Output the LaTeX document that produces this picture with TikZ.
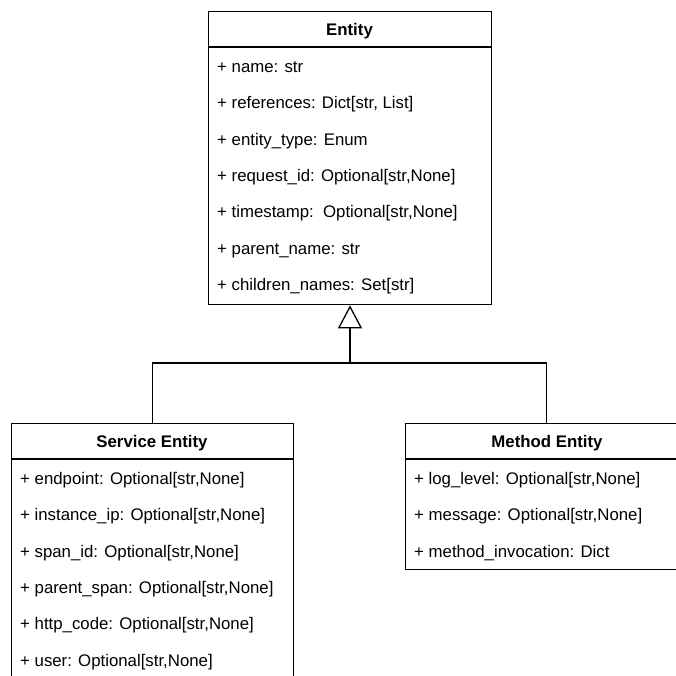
\documentclass[tikz,border=0pt]{standalone}
\usepackage{fontspec}
\setmainfont{Liberation Sans}
\usetikzlibrary{arrows.meta}
\tikzset{
  umlbox/.style={draw, line width=1.3pt, fill=white, rectangle, inner sep=0pt, anchor=north west},
  umltitle/.style={font=\fontsize{16.8}{20}\selectfont\bfseries, anchor=base, inner sep=0pt},
  umlfield/.style={font=\fontsize{16.8}{20}\selectfont, anchor=base west, inner sep=0pt},
  umlrule/.style={line width=1.3pt},
  inherit/.style={line width=1.3pt, -{Triangle[open, length=23pt, width=24pt, line width=1.3pt]}},
}
\begin{document}
\begin{tikzpicture}[x=1pt, y=-1pt]
\useasboundingbox (0,0) rectangle (676,675);
\fill[white] (0,0) rectangle (676,675);
\clip (0,0) rectangle (676,675);

% Entity class
\node[umlbox, minimum width=283, minimum height=293] (entity) at (208,11) {};
\draw[umlrule] (208,47) -- (491,47);
\node[umltitle] (entityT) at (349.5,35) {Entity};
\foreach \t [count=\i from 0] in {%
  {+ name: str},
  {+ references: Dict[str, List]},
  {+ entity\_type: Enum},
  {+ request\_id: Optional[str,None]},
  {+ timestamp:\ \ Optional[str,None]},
  {+ parent\_name: str},
  {+ children\_names: Set[str]}}
  \node[umlfield] (ef\i) at (217, 47+36.4*\i+25.2) {\t};

% Service Entity class (runs past the lower edge)
\node[umlbox, minimum width=282, minimum height=300] (service) at (11,423) {};
\draw[umlrule] (11,459) -- (293,459);
\node[umltitle] (serviceT) at (152,447) {Service Entity};
\foreach \t [count=\i from 0] in {%
  {+ endpoint: Optional[str,None]},
  {+ instance\_ip: Optional[str,None]},
  {+ span\_id: Optional[str,None]},
  {+ parent\_span: Optional[str,None]},
  {+ http\_code: Optional[str,None]},
  {+ user: Optional[str,None]}}
  \node[umlfield] (sf\i) at (20, 459+36.4*\i+25.2) {\t};

% Method Entity class (runs past the right edge)
\node[umlbox, minimum width=282, minimum height=146] (method) at (405,423) {};
\draw[umlrule] (405,459) -- (687,459);
\node[umltitle] (methodT) at (547,447) {Method Entity};
\foreach \t [count=\i from 0] in {%
  {+ log\_level: Optional[str,None]},
  {+ message: Optional[str,None]},
  {+ method\_invocation: Dict}}
  \node[umlfield] (mf\i) at (414, 459+36.4*\i+25.2) {\t};

% Generalisation
\coordinate (join) at (350,363);
\draw[inherit] (join) -- (entity.south -| join);
\draw[umlrule] (service.north) |- (join) -| (method.north);
\end{tikzpicture}
\end{document}
